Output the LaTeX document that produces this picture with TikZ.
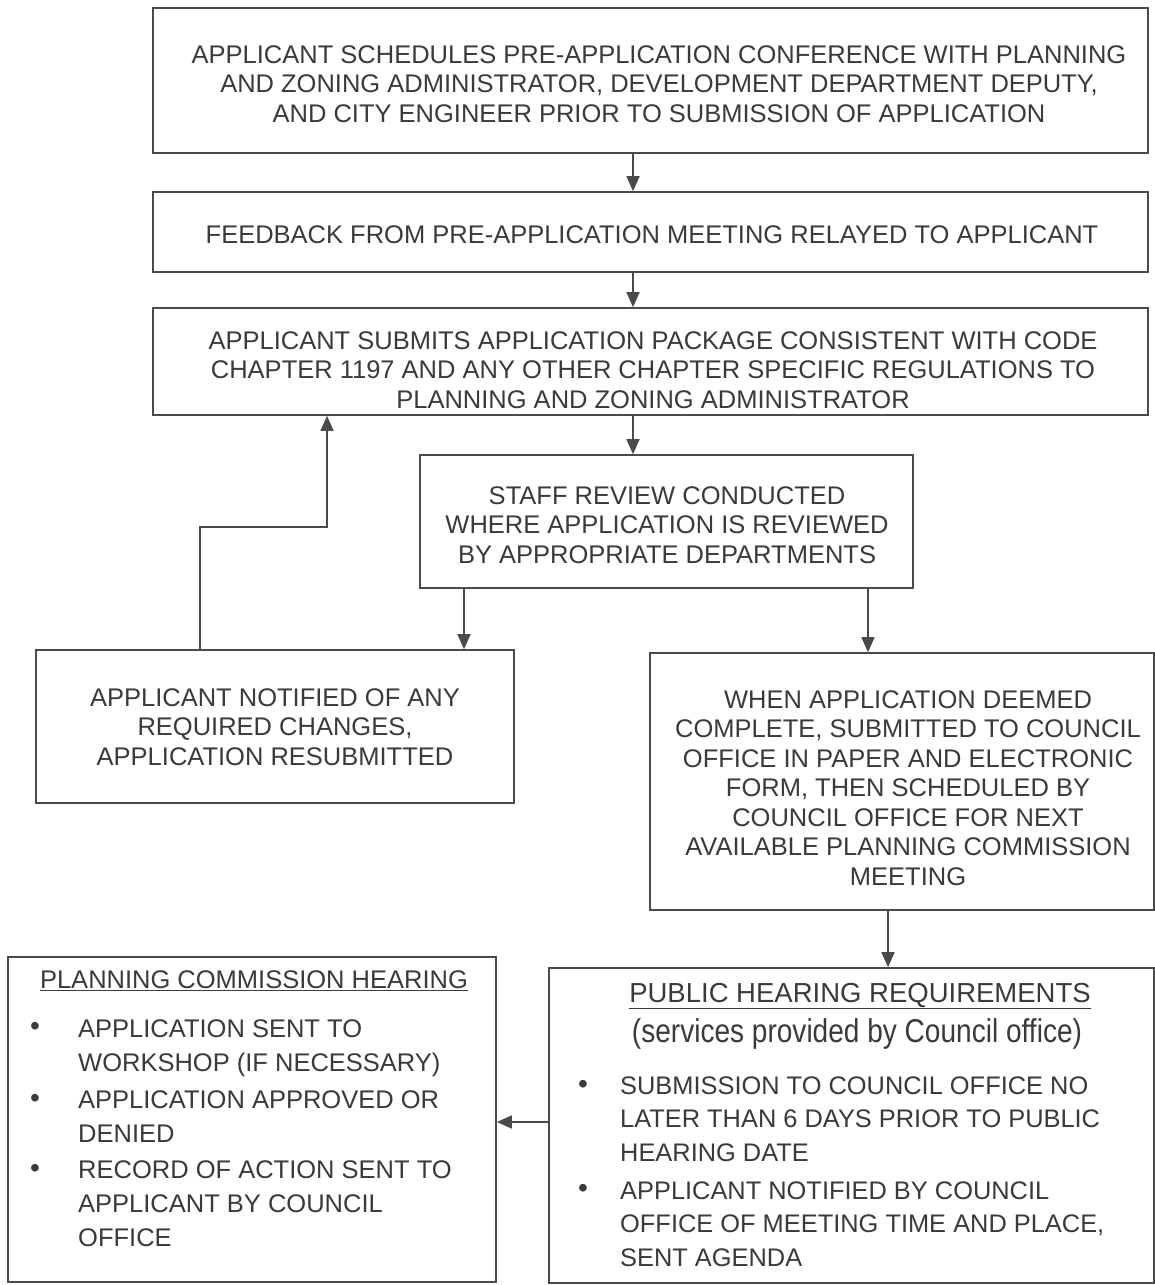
\documentclass[tikz,border=0pt]{standalone}
\usepackage{fontspec}
\setmainfont{Liberation Sans}
\usetikzlibrary{arrows.meta}
\definecolor{ink}{HTML}{3A3A3A}
\definecolor{edge}{HTML}{4A4A4A}
\begin{document}
\begin{tikzpicture}[x=1pt,y=-1pt,
  box/.style={draw=edge, line width=1.6pt, rectangle, inner sep=0pt},
  txt/.style={text=ink, align=center, font=\fontsize{25.5}{29.5}\selectfont, inner sep=0pt},
  ltxt/.style={text=ink, align=left, font=\fontsize{25.5}{34}\selectfont, inner sep=0pt, anchor=base west},
  rtxt/.style={text=ink, align=left, font=\fontsize{25.4}{33.5}\selectfont, inner sep=0pt, anchor=base west},
  dot/.style={text=ink, font=\fontsize{28}{28}\selectfont, inner sep=0pt},
  arr/.style={draw=edge, line width=1.6pt, -{Triangle[width=13pt,length=15pt]}}]
\useasboundingbox[fill=white] (0,0) rectangle (1155,1285);

% boxes
\node[box, minimum width=995pt, minimum height=145pt] (b1) at (650.5,80.5) {};
\node[box, minimum width=995pt, minimum height=80pt]  (b2) at (650.5,232) {};
\node[box, minimum width=995pt, minimum height=107pt] (b3) at (650.5,361.5) {};
\node[box, minimum width=493pt, minimum height=133pt] (b4) at (666.5,521.5) {};
\node[box, minimum width=478pt, minimum height=153pt] (b5) at (275,726.5) {};
\node[box, minimum width=504pt, minimum height=257pt] (b6) at (902,781.5) {};
\node[box, minimum width=488pt, minimum height=325pt] (b7) at (252,1119.5) {};
\node[box, minimum width=605pt, minimum height=315pt] (b8) at (851.5,1125.5) {};

% texts
\node[txt] (t1) at (659,84) {APPLICANT SCHEDULES PRE-APPLICATION CONFERENCE WITH PLANNING\\AND ZONING ADMINISTRATOR, DEVELOPMENT DEPARTMENT DEPUTY,\\AND CITY ENGINEER PRIOR TO SUBMISSION OF APPLICATION};
\node[txt] (t2) at (652,235) {FEEDBACK FROM PRE-APPLICATION MEETING RELAYED TO APPLICANT};
\node[txt] (t3) at (653,370) {APPLICANT SUBMITS APPLICATION PACKAGE CONSISTENT WITH CODE\\CHAPTER 1197 AND ANY OTHER CHAPTER SPECIFIC REGULATIONS TO\\PLANNING AND ZONING ADMINISTRATOR};
\node[txt] (t4) at (667,525) {STAFF REVIEW CONDUCTED\\WHERE APPLICATION IS REVIEWED\\BY APPROPRIATE DEPARTMENTS};
\node[txt] (t5) at (275,727) {APPLICANT NOTIFIED OF ANY\\REQUIRED CHANGES,\\APPLICATION RESUBMITTED};
\node[txt] (t6) at (908,788) {WHEN APPLICATION DEEMED\\COMPLETE, SUBMITTED TO COUNCIL\\OFFICE IN PAPER AND ELECTRONIC\\FORM, THEN SCHEDULED BY\\COUNCIL OFFICE FOR NEXT\\AVAILABLE PLANNING COMMISSION\\MEETING};

% planning commission hearing
\node[txt] (h7) at (254,981) {\underline{PLANNING COMMISSION HEARING}};
\node[dot] (d71) at (35,1029) {•};
\node[dot] (d72) at (35,1101) {•};
\node[dot] (d73) at (35,1171) {•};
\node[ltxt] (i71) at (78,1071) {APPLICATION SENT TO\\WORKSHOP (IF NECESSARY)};
\node[ltxt] (i72) at (78,1142) {APPLICATION APPROVED OR\\DENIED};
\node[ltxt] (i73) at (78,1246) {RECORD OF ACTION SENT TO\\APPLICANT BY COUNCIL\\OFFICE};

% public hearing requirements
\node[txt, font=\fontsize{27.5}{30}\selectfont] (h8) at (860,996) {\underline{PUBLIC HEARING REQUIREMENTS}};
\node[txt] (s8) at (857,1034) {\scalebox{0.85}[1]{\fontsize{33}{36}\selectfont (services provided by Council office)}};
\node[dot] (d81) at (583,1087) {•};
\node[dot] (d82) at (583,1191) {•};
\node[rtxt] (i81) at (620,1161) {SUBMISSION TO COUNCIL OFFICE NO\\LATER THAN 6 DAYS PRIOR TO PUBLIC\\HEARING DATE};
\node[rtxt] (i82) at (620,1266) {APPLICANT NOTIFIED BY COUNCIL\\OFFICE OF MEETING TIME AND PLACE,\\SENT AGENDA};

% helper coordinates
\coordinate (cx) at (633,0);
\coordinate (c4l) at (464,0);
\coordinate (c4r) at (868,0);
\coordinate (c6) at (888,0);
\coordinate (l1) at (200,0);
\coordinate (l2) at (327,527);
\coordinate (c8) at (0,1122);

% connectors
\draw[arr] (b1.south -| cx) -- (b2.north -| cx);
\draw[arr] (b2.south -| cx) -- (b3.north -| cx);
\draw[arr] (b3.south -| cx) -- (b4.north -| cx);
\draw[arr] (b4.south -| c4l) -- (b5.north -| c4l);
\draw[arr] (b4.south -| c4r) -- (b6.north -| c4r);
\draw[arr] (b6.south -| c6) -- (b8.north -| c6);
\draw[arr] (b5.north -| l1) |- (l2) -- (b3.south -| l2);
\draw[arr] (b8.west |- c8) -- (b7.east |- c8);
\end{tikzpicture}
\end{document}
